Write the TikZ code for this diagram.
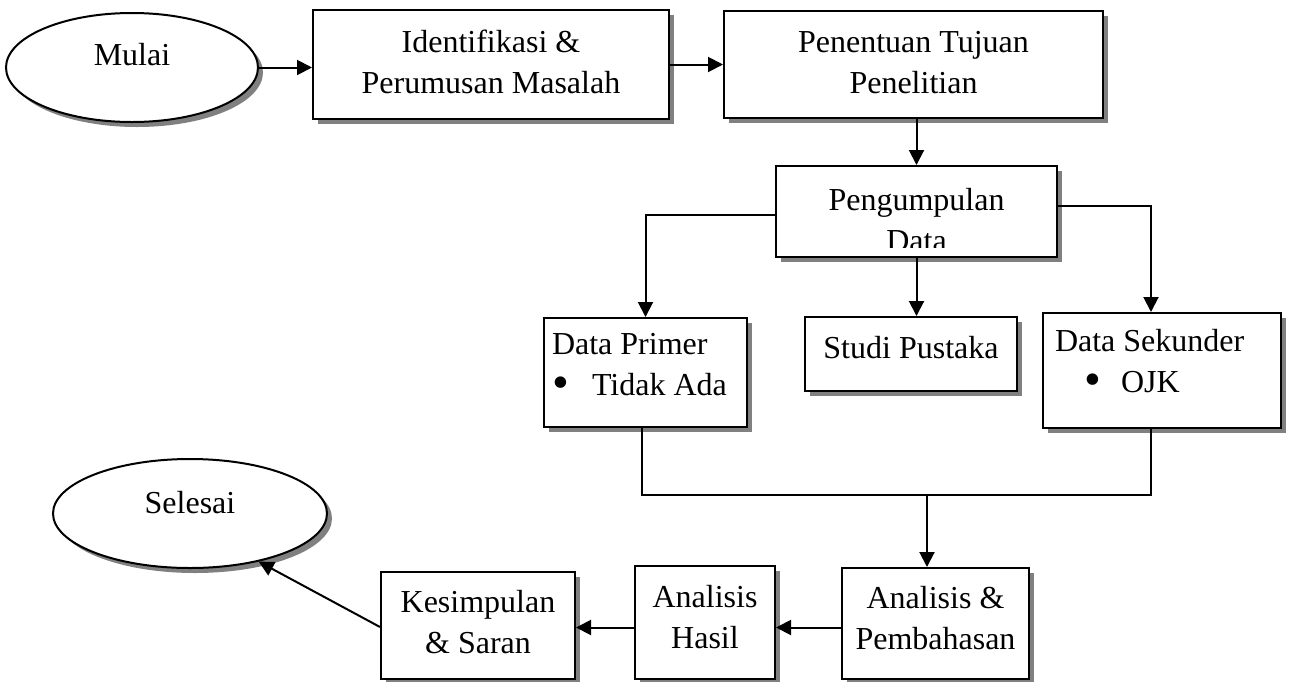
\documentclass[tikz,border=0pt]{standalone}
\usepackage{fontspec}
\setmainfont{Liberation Serif}
\usetikzlibrary{shapes,arrows.meta,positioning,shadows}

\newcommand{\lowstrut}[1]{\rule[-#1]{0pt}{#1}}
\newcommand{\bigbullet}{\raisebox{-1.5pt}{\scalebox{1.5}{\textbullet}}}

\begin{document}
\begin{tikzpicture}[
    x=0.5pt, y=-0.5pt,
    font=\fontsize{16pt}{20.5pt}\selectfont,
    boxshadow/.style={drop shadow={shadow xshift=2.5pt, shadow yshift=-2.5pt, fill=black!50, opacity=1}},
    terminal/.style={ellipse, draw, line width=1pt, fill=white, boxshadow, inner sep=0pt},
    process/.style={rectangle, draw, line width=1pt, fill=white, boxshadow, align=center, inner sep=0pt},
    listbox/.style={rectangle, draw, line width=1pt, fill=white, boxshadow, align=flush left, inner ysep=0pt},
    arrow/.style={-{Triangle[length=7.5pt, width=7.5pt]}, line width=1pt},
    link/.style={line width=0.7pt}
]
\useasboundingbox (0,0) rectangle (1292,681);

% Top row
\node[terminal, minimum width=126pt, minimum height=54.5pt] (mulai) at (132,67.5) {Mulai\lowstrut{13.5pt}};
\node[process, minimum width=178pt, minimum height=54.5pt, right=26.5pt of mulai, yshift=1.5pt] (ident) {Identifikasi \&\\Perumusan Masalah\lowstrut{3pt}};
\node[process, minimum width=189.5pt, minimum height=53.5pt, right=26.5pt of ident] (tujuan) {Penentuan Tujuan\\Penelitian\lowstrut{2.5pt}};

% Data collection
\node[process, minimum width=140.5pt, minimum height=45.5pt,
    path picture={
        \clip (path picture bounding box.north west) rectangle ([yshift=5pt]path picture bounding box.south east);
        \node[align=center, inner sep=0pt, anchor=center] (kumpultext) at ([yshift=-4.5pt]path picture bounding box.center) {Pengumpulan\\Data};
    }] (kumpul) at (916.5,211.5) {};

% Data sources
\node[process, minimum width=106pt, minimum height=37pt, below=29pt of kumpul, xshift=-2.75pt] (pustaka) {Studi Pustaka\lowstrut{7pt}};
\node[listbox, text width=93.5pt, inner xsep=4pt, minimum height=54.5pt, below left=0.5pt and 28pt of pustaka.north west] (primer) {Data Primer\\\makebox[20pt][l]{\bigbullet}Tidak Ada\lowstrut{8pt}};
\node[listbox, text width=107pt, inner xsep=6pt, minimum height=57.5pt, below right=-2pt and 12pt of pustaka.north east] (sekunder) {Data Sekunder\\\hspace*{14.7pt}\makebox[18.3pt][l]{\bigbullet}OJK\lowstrut{9.5pt}};

% Bottom row
\node[process, minimum width=93.5pt, minimum height=55.5pt, below=87.5pt of pustaka, xshift=12.25pt] (bahas) {Analisis \&\\Pembahasan\lowstrut{6pt}};
\node[process, minimum width=70pt, minimum height=56.5pt, left=32.5pt of bahas, yshift=0.5pt] (hasil) {Analisis\\Hasil\lowstrut{6pt}};
\node[process, minimum width=97pt, minimum height=53.5pt, left=29pt of hasil, yshift=-1.5pt] (simpul) {Kesimpulan\\\& Saran\lowstrut{3.5pt}};
\node[terminal, minimum width=137pt, minimum height=54.5pt] (selesai) at (190,513.5) {Selesai\lowstrut{11.5pt}};

\coordinate (merge) at (927,495);

% Arrows
\draw[arrow] (mulai.east) -- (mulai.east -| ident.west);
\draw[arrow] (ident.east) -- (tujuan.west);
\draw[arrow] (kumpul.north |- tujuan.south) -- (kumpul.north);
\draw[arrow] ([yshift=-1.75pt]kumpul.west) -| (primer.north);
\draw[arrow] (kumpul.south) -- (kumpul.south |- pustaka.north);
\draw[arrow] ([yshift=2.75pt]kumpul.east) -| ([xshift=-5.5pt]sekunder.north);
\draw[link] ([xshift=-1.75pt]primer.south) |- (merge) -| ([xshift=-5.5pt]sekunder.south);
\draw[arrow] (merge) -- (merge |- bahas.north);
\draw[arrow] ([yshift=-2pt]bahas.west) -- ([yshift=-2pt]bahas.west -| hasil.east);
\draw[arrow] ([yshift=-2.5pt]hasil.west) -- ([yshift=-2.5pt]hasil.west -| simpul.east);
\draw[arrow] ([yshift=-0.75pt]simpul.west) -- (selesai.-35);

\end{tikzpicture}
\end{document}
